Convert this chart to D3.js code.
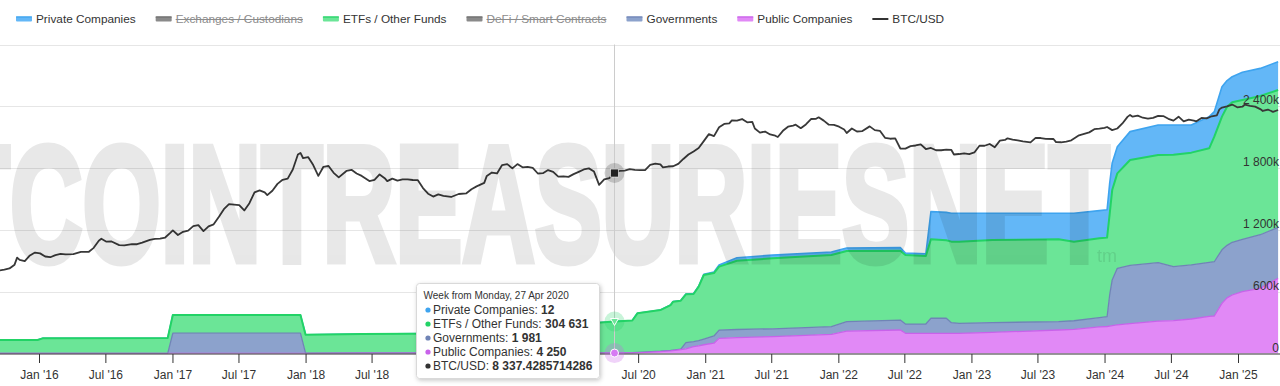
<!DOCTYPE html>
<html><head><meta charset="utf-8">
<script src="https://cdn.jsdelivr.net/npm/d3@7"></script>
<style>
html,body{margin:0;padding:0;background:#fff;}
svg{display:block;font-family:"Liberation Sans",Arial,Helvetica,sans-serif;}
</style></head><body>
<svg id="chart" width="1280" height="386"></svg>
<script>
// ---------------- DATA ----------------
const weeks = ["2015-09-14","2015-12-28","2016-01-11","2016-12-19","2017-01-02","2017-12-18","2018-01-01","2018-06-04","2019-03-04","2019-09-02",
"2020-01-06","2020-03-02","2020-04-27","2020-06-15","2020-06-29","2020-08-31","2020-09-28","2020-10-05","2020-10-26","2020-11-09",
"2020-11-30","2020-12-14","2020-12-28","2021-01-25","2021-02-08","2021-03-29","2021-07-05","2021-12-13","2022-01-24","2022-06-20",
"2022-07-04","2022-08-29","2022-09-12","2022-10-24","2022-11-07","2022-11-28","2023-02-27","2023-08-28","2023-10-09","2023-12-18",
"2024-01-08","2024-01-15","2024-01-22","2024-02-05","2024-03-11","2024-05-27","2024-07-08","2024-08-26","2024-10-14","2024-10-28",
"2024-11-18","2024-12-02","2024-12-16","2025-01-13","2025-03-03","2025-04-21"];
const publicCompanies = [2000,2000,2000,2000,2000,2000,2000,3000,3000,4000,
4000,4000,4250,5000,6000,18000,25000,28000,38000,45000,
66000,75000,85000,100000,147000,155000,163000,186000,218000,228000,
196000,196000,196000,196000,196000,196000,205000,228000,235000,258000,
262000,266000,270000,277000,290000,315000,320000,335000,360000,364000,
487000,540000,568000,600000,633000,730000];
const governments = [0,0,0,0,195000,195000,2000,2000,2000,2000,
2000,2000,1981,3000,4000,4000,5000,5000,5000,60000,
50000,50000,55000,70000,80000,78000,77000,74000,91000,97000,
90000,90000,146000,146000,103000,97000,95000,81000,83000,90000,
95000,300000,444000,550000,565000,567000,523000,525000,525000,527000,
520000,510000,512000,509000,520000,495000];
const etfsOtherFunds = [129000,129000,145000,148000,176000,176000,178000,184000,190000,234000,
274000,290000,304631,312000,380000,400000,440000,470000,470000,470000,
462000,524000,622000,611000,616000,668000,684000,696000,686000,673000,
670000,661000,767000,758000,787000,793000,802000,800000,768000,770000,
768000,784000,873000,922000,1023000,1045000,1087000,1090000,1107000,1214000,
1293000,1346000,1360000,1352000,1347000,1333000];
const privateCompanies = [0,0,0,0,0,0,0,0,0,0,
0,0,12,100,200,300,2000,2000,2000,3000,
4000,4000,6000,10000,17000,29000,31000,29000,30000,30000,
20000,21000,268000,270000,275000,275000,259000,252000,275000,269000,
270000,300000,263000,259000,276000,291000,288000,268000,308000,243000,
290000,254000,247000,269000,268000,275000];

const btcWeeks = ["2015-09-14","2015-09-28","2015-10-12","2015-10-26","2015-11-02","2015-11-09","2015-11-23","2015-12-07","2015-12-21",
"2016-01-04","2016-01-18","2016-02-01","2016-02-15","2016-02-29","2016-03-14","2016-04-04","2016-04-25","2016-05-16","2016-05-30","2016-06-13","2016-06-20","2016-07-04","2016-07-18","2016-08-08","2016-08-22","2016-09-12","2016-09-26","2016-10-10","2016-10-31","2016-11-14","2016-11-28","2016-12-12","2016-12-26",
"2017-01-02","2017-01-16","2017-01-30","2017-02-13","2017-02-27","2017-03-13","2017-03-27","2017-04-10","2017-04-24","2017-05-08","2017-05-22","2017-06-05","2017-06-19","2017-07-03","2017-07-17","2017-07-31","2017-08-14","2017-08-28","2017-09-11","2017-09-18","2017-10-02","2017-10-16","2017-10-30","2017-11-13","2017-11-27","2017-12-11","2017-12-18","2017-12-25",
"2018-01-08","2018-01-22","2018-02-05","2018-02-19","2018-03-05","2018-03-19","2018-04-02","2018-04-23","2018-05-07","2018-05-21","2018-06-04","2018-06-25","2018-07-09","2018-07-23","2018-08-06","2018-08-13","2018-08-27","2018-09-10","2018-09-24","2018-10-08","2018-10-22","2018-11-05","2018-11-19","2018-12-03","2018-12-17","2018-12-31",
"2019-01-14","2019-02-04","2019-02-25","2019-03-18","2019-04-01","2019-04-15","2019-05-06","2019-05-13","2019-05-27","2019-06-10","2019-06-24","2019-07-08","2019-07-22","2019-08-05","2019-08-19","2019-09-02","2019-09-16","2019-09-30","2019-10-14","2019-10-28","2019-11-11","2019-11-25","2019-12-09","2019-12-23",
"2020-01-06","2020-01-20","2020-02-03","2020-02-17","2020-03-02","2020-03-16","2020-03-30","2020-04-13","2020-04-27","2020-05-11","2020-05-25","2020-06-08","2020-06-22","2020-07-06","2020-07-20","2020-08-03","2020-08-17","2020-08-31","2020-09-07","2020-09-21","2020-10-05","2020-10-19","2020-11-02","2020-11-16","2020-11-30","2020-12-14","2020-12-28",
"2021-01-11","2021-01-25","2021-02-08","2021-02-22","2021-03-08","2021-03-15","2021-03-29","2021-04-12","2021-04-26","2021-05-10","2021-05-17","2021-05-31","2021-06-14","2021-06-28","2021-07-12","2021-07-19","2021-08-02","2021-08-16","2021-08-30","2021-09-06","2021-09-20","2021-10-04","2021-10-18","2021-11-01","2021-11-08","2021-11-22","2021-12-06","2021-12-20",
"2022-01-03","2022-01-17","2022-01-24","2022-02-07","2022-02-21","2022-03-07","2022-03-28","2022-04-11","2022-04-25","2022-05-09","2022-05-23","2022-06-06","2022-06-20","2022-07-04","2022-07-18","2022-08-01","2022-08-15","2022-08-29","2022-09-12","2022-09-26","2022-10-10","2022-10-24","2022-11-07","2022-11-14","2022-11-28","2022-12-12","2022-12-26",
"2023-01-09","2023-01-23","2023-02-06","2023-02-20","2023-03-06","2023-03-20","2023-04-03","2023-04-10","2023-04-24","2023-05-08","2023-05-22","2023-06-12","2023-06-26","2023-07-10","2023-07-24","2023-08-14","2023-08-21","2023-09-04","2023-09-18","2023-10-02","2023-10-23","2023-11-06","2023-11-20","2023-12-04","2023-12-18",
"2024-01-01","2024-01-08","2024-01-22","2024-02-05","2024-02-19","2024-03-04","2024-03-11","2024-03-18","2024-04-01","2024-04-15","2024-04-29","2024-05-13","2024-05-27","2024-06-10","2024-06-24","2024-07-08","2024-07-22","2024-08-05","2024-08-19","2024-09-02","2024-09-09","2024-09-23","2024-10-07","2024-10-21","2024-11-04","2024-11-11","2024-11-18","2024-12-02","2024-12-16","2024-12-30",
"2025-01-13","2025-01-20","2025-02-03","2025-02-17","2025-03-03","2025-03-10","2025-03-24","2025-04-07","2025-04-21"];
const btcUsd = [230,237,248,285,370,340,325,400,445,
432,385,375,405,425,415,420,455,455,530,690,740,665,670,585,580,608,605,640,710,735,745,775,920,
1010,850,955,1000,1180,1220,980,1170,1260,1650,2200,2650,2600,2550,2100,2750,4100,4400,4100,3700,4350,5600,6500,6800,9500,16500,17500,14500,
15000,11200,7500,10500,10800,8400,7100,9000,9400,8200,7500,6200,6500,7900,6900,6200,6800,6300,6600,6600,6450,6400,4800,3900,3500,3800,
3600,3450,3850,3950,4600,5100,5800,7500,8500,8200,11200,11600,9900,11600,10300,10500,10100,8200,8300,9300,8700,7300,7400,7250,
8000,8700,9500,9900,8800,5400,6600,6900,8337.4285714286,9000,9100,9600,9350,9250,9300,11300,11800,11500,10300,10600,10700,11700,14000,16500,18500,21000,27000,
35000,32500,45000,51000,52000,58000,57500,61000,54000,55000,43000,37000,38500,34500,33000,31500,39500,46000,48000,49500,43500,50000,61000,61500,65000,57500,49500,49000,
46000,41500,36500,43000,38500,39000,46500,40500,39500,30500,29500,30000,20600,20500,22500,23000,24000,20200,21000,19300,19300,19800,19500,16500,16800,17200,16700,
17800,22800,22800,24300,21500,27500,28200,30000,28500,27800,26800,25800,30400,30300,29300,29200,26100,25900,26600,27800,33500,35300,37300,42000,42800,
44000,45500,40500,43000,51800,66000,71000,66500,69000,64000,62000,63500,68500,68000,61500,57500,66500,56000,59500,57500,56000,63500,62500,67500,70000,87000,93000,97000,104000,94000,
96000,104000,99000,96500,88000,82000,86500,79500,85000];

const yTicks = [0, 600000, 1200000, 1800000, 2400000, 3000000];
const xTicks = ["2016-01-01","2016-07-01","2017-01-01","2017-07-01","2018-01-01","2018-07-01","2019-01-01","2019-07-01","2020-01-01","2020-07-01",
"2021-01-01","2021-07-01","2022-01-01","2022-07-01","2023-01-01","2023-07-01","2024-01-01","2024-07-01","2025-01-01"];
const legendNames = ["Private Companies","Exchanges / Custodians","ETFs / Other Funds","DeFi / Smart Contracts","Governments","Public Companies","BTC/USD"];
const legendHidden = [false,true,false,true,false,false,false];
const tooltipWeek = "2020-04-27";
const tooltipHeader = "Week from Monday, 27 Apr 2020";
const tooltipNames = ["Private Companies","ETFs / Other Funds","Governments","Public Companies","BTC/USD"];
const tooltipValues = ["12","304 631","1 981","4 250","8 337.4285714286"];

// ---------------- STYLE ----------------
const style = {
  "Private Companies": {fill:"#63b7f7", line:"#3ea4ef"},
  "Exchanges / Custodians": {fill:"#777", line:"#777"},
  "ETFs / Other Funds": {fill:"#6be597", line:"#22d366"},
  "DeFi / Smart Contracts": {fill:"#777", line:"#777"},
  "Governments": {fill:"#8ca2cc", line:"#7084b6"},
  "Public Companies": {fill:"#e189f6", line:"#c862ea"},
  "BTC/USD": {fill:"#333", line:"#333"}
};

const parse = d3.utcParse("%Y-%m-%d");
const svg = d3.select("#chart");
const W = 1280;
const bottomY = 353.5, topY = 44.5;

const x = d3.scaleUtc().domain([parse("2016-01-01"), parse("2025-01-01")]).range([39, 1238]);
const y = d3.scaleLinear().domain([0, 3000000]).range([bottomY, topY]);
const yBtc = d3.scaleLog().domain([10.8, 950000]).range([bottomY, topY]);

const defs = svg.append("defs");
defs.append("clipPath").attr("id","plotclip").append("rect").attr("x",0).attr("y",40).attr("width",W).attr("height",bottomY-40);
const f = defs.append("filter").attr("id","shadow").attr("x","-10%").attr("y","-10%").attr("width","130%").attr("height","130%");
f.append("feDropShadow").attr("dx",1).attr("dy",1.5).attr("stdDeviation",2).attr("flood-color","#000").attr("flood-opacity",0.22);

// gridlines
svg.append("g").selectAll("line").data(yTicks.filter(v=>v>0)).join("line")
  .attr("x1",0).attr("x2",W)
  .attr("y1",d=>Math.round(y(d))+0.5).attr("y2",d=>Math.round(y(d))+0.5)
  .attr("stroke","#e6e6e6").attr("stroke-width",1);

// stacked areas
const rows = weeks.map((w,i)=>({date:parse(w), pub:publicCompanies[i], gov:governments[i], etf:etfsOtherFunds[i], priv:privateCompanies[i]}));
const keys = ["pub","gov","etf","priv"];
const keyName = {pub:"Public Companies", gov:"Governments", etf:"ETFs / Other Funds", priv:"Private Companies"};
const stacked = d3.stack().keys(keys)(rows);
const plot = svg.append("g").attr("clip-path","url(#plotclip)");
const area = d3.area().x(d=>x(d.data.date)).y0(d=>y(d[0])).y1(d=>y(d[1]));
const topLine = d3.line().x(d=>x(d.data.date)).y(d=>y(d[1]));
["priv","etf","gov","pub"].forEach(k=>{
  const s = stacked.find(ss=>ss.key===k);
  const st = style[keyName[k]];
  plot.append("path").datum(s).attr("d",area).attr("fill",st.fill).attr("stroke","none");
  plot.append("path").datum(s).attr("d",topLine).attr("fill","none").attr("stroke",st.line)
    .attr("stroke-width", k==="etf"?2:(k==="priv"?1.6:1.3)).attr("stroke-linejoin","round");
});

// watermark
const wm = svg.append("g").attr("opacity",0.09).attr("clip-path","url(#plotclip)");
wm.append("text").attr("x",-152).attr("y",261).attr("font-size",165).attr("font-weight","bold")
  .attr("textLength",1262).attr("lengthAdjust","spacingAndGlyphs")
  .attr("fill","#000").attr("stroke","#000").attr("stroke-width",7)
  .text("BITCOINTREASURIESNET");
wm.append("text").attr("x",1097).attr("y",262).attr("font-size",18).attr("fill","#000").text("tm");

// BTC line
const btc = btcWeeks.map((w,i)=>({date:parse(w), v:btcUsd[i]}));
plot.append("path").datum(btc)
  .attr("d", d3.line().x(d=>x(d.date)).y(d=>yBtc(d.v)))
  .attr("fill","none").attr("stroke","#383838").attr("stroke-width",1.8).attr("stroke-linejoin","round");

// x axis
svg.append("line").attr("x1",0).attr("x2",W).attr("y1",bottomY+0.5).attr("y2",bottomY+0.5).attr("stroke","#333").attr("stroke-width",1);
const xAxis = svg.append("g").attr("transform",`translate(0,${bottomY+0.5})`)
  .call(d3.axisBottom(x).tickValues(xTicks.map(parse)).tickSize(9).tickSizeOuter(0).tickFormat(d3.utcFormat("%b '%y")));
xAxis.select(".domain").remove();
xAxis.selectAll(".tick line").attr("stroke","#333");
xAxis.selectAll(".tick text").attr("y",25).attr("dy",null).attr("fill","#333")
  .attr("font-size",12).attr("font-family",'"Liberation Sans",Arial,sans-serif');

// y labels (right, inside)
const loc = d3.formatLocale({decimal:".", thousands:" ", grouping:[3], currency:["",""]});
const fmtK = v => v===0 ? "0" : loc.format(",")(v/1000)+"k";
svg.append("g").selectAll("text").data(yTicks.filter(v=>v<3000000)).join("text")
  .attr("x",1279).attr("y",d=>Math.round(y(d))-2).attr("text-anchor","end")
  .attr("font-size",12).attr("fill","#333").text(fmtK);

// crosshair + hover markers
const hx = Math.round(x(parse(tooltipWeek)))+0.5;
svg.append("line").attr("x1",hx).attr("x2",hx).attr("y1",topY).attr("y2",bottomY).attr("stroke","#cccccc").attr("stroke-width",1);
const hov = rows.find(r=>+r.date===+parse(tooltipWeek));
const hb = btc.find(r=>+r.date===+parse(tooltipWeek));
svg.append("circle").attr("cx",hx).attr("cy",yBtc(hb.v)).attr("r",10).attr("fill","#333").attr("opacity",0.22);
svg.append("rect").attr("x",hx-4).attr("y",yBtc(hb.v)-4).attr("width",8).attr("height",8).attr("fill","#222").attr("stroke","#fff").attr("stroke-width",0.6);
const ety = y(hov.pub+hov.gov+hov.etf+hov.priv);
svg.append("circle").attr("cx",hx).attr("cy",ety).attr("r",10).attr("fill","#22d366").attr("opacity",0.25);
svg.append("path").attr("d",`M${hx-4},${ety-3} L${hx+4},${ety-3} L${hx},${ety+4} Z`).attr("fill","#6be597").attr("stroke","#fff").attr("stroke-width",1);
const puy = y(hov.pub);
svg.append("circle").attr("cx",hx).attr("cy",puy).attr("r",10).attr("fill","#c862ea").attr("opacity",0.28);
svg.append("circle").attr("cx",hx).attr("cy",puy).attr("r",4).attr("fill","#d67af3").attr("stroke","#fff").attr("stroke-width",1);

// legend
const lg = svg.append("g");
let lx = 16;
legendNames.forEach((name,i)=>{
  const hidden = legendHidden[i];
  const st = style[name];
  const g = lg.append("g");
  if (name==="BTC/USD") {
    g.append("line").attr("x1",lx).attr("x2",lx+16).attr("y1",19).attr("y2",19).attr("stroke","#333").attr("stroke-width",2);
  } else {
    g.append("rect").attr("x",lx).attr("y",16.5).attr("width",16).attr("height",5).attr("rx",1)
      .attr("fill", hidden ? "#8a8a8a" : st.fill);
    g.append("line").attr("x1",lx).attr("x2",lx+16).attr("y1",17).attr("y2",17)
      .attr("stroke", hidden ? "#6f6f6f" : st.line).attr("stroke-width",1.2);
  }
  const t = g.append("text").attr("x",lx+20).attr("y",23).attr("font-size",11.8)
    .attr("fill", hidden ? "#8c8c8c" : "#333").text(name);
  const tw = t.node().getComputedTextLength();
  if (hidden) {
    g.append("line").attr("x1",lx+20).attr("x2",lx+20+tw).attr("y1",19.5).attr("y2",19.5).attr("stroke","#8c8c8c").attr("stroke-width",1);
  }
  lx += 20 + tw + 20;
});

// tooltip
const tt = svg.append("g").attr("transform","translate(416.5,283.5)");
tt.append("rect").attr("width",183).attr("height",95).attr("rx",3).attr("fill","#fff")
  .attr("stroke","#d9d9d9").attr("stroke-width",1).attr("filter","url(#shadow)");
tt.append("text").attr("x",7).attr("y",15.5).attr("font-size",10).attr("fill","#333").text(tooltipHeader);
const ttColors = ["#3ea4ef","#22d366","#7084b6","#c862ea","#333"];
tooltipNames.forEach((n,i)=>{
  const by = 30.5 + i*14;
  tt.append("circle").attr("cx",11.5).attr("cy",by-4).attr("r",2.6).attr("fill",ttColors[i]);
  const t = tt.append("text").attr("x",16.5).attr("y",by).attr("font-size",12).attr("fill","#333");
  t.append("tspan").text(n+": ");
  t.append("tspan").attr("font-weight","bold").text(tooltipValues[i]);
});
</script>
</body></html>
